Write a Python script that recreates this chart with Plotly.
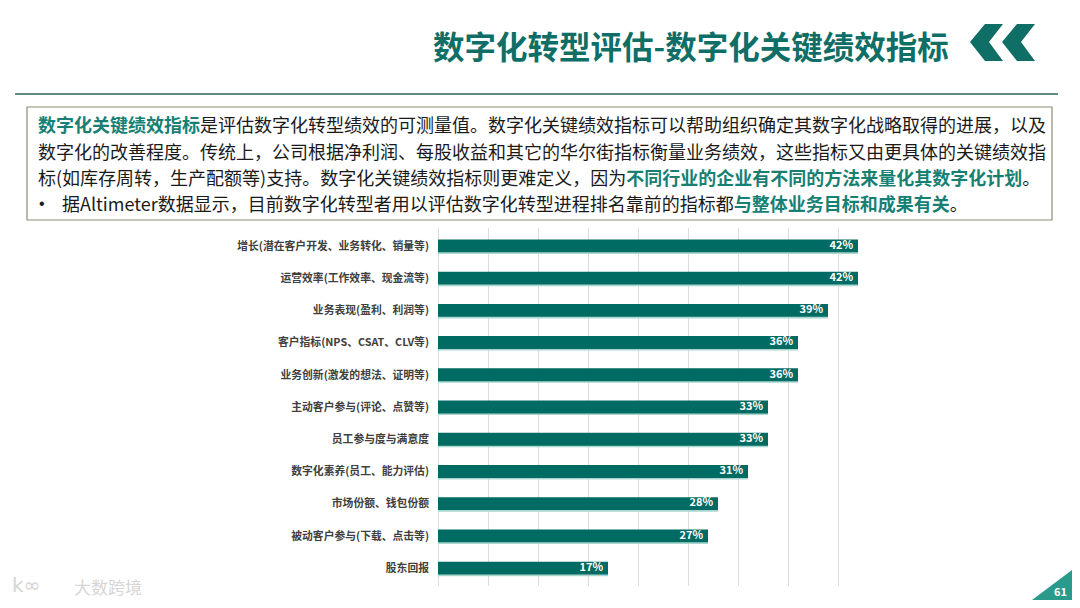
import plotly.graph_objects as go

# ---- data ----
categories = [
    "增长(潜在客户开发、业务转化、销量等)",
    "运营效率(工作效率、现金流等)",
    "业务表现(盈利、利润等)",
    "客户指标(NPS、CSAT、CLV等)",
    "业务创新(激发的想法、证明等)",
    "主动客户参与(评论、点赞等)",
    "员工参与度与满意度",
    "数字化素养(员工、能力评估)",
    "市场份额、钱包份额",
    "被动客户参与(下载、点击等)",
    "股东回报",
]
values = [42, 42, 39, 36, 36, 33, 33, 31, 28, 27, 17]
value_labels = [f"{v}%" for v in values]

title_text = "数字化转型评估-数字化关键绩效指标"
HL = "#178073"
body_lines = [
    f"<b><span style='color:{HL}'>数字化关键绩效指标</span></b>是评估数字化转型绩效的可测量值。数字化关键绩效指标可以帮助组织确定其数字化战略取得的进展，以及",
    "数字化的改善程度。传统上，公司根据净利润、每股收益和其它的华尔街指标衡量业务绩效，这些指标又由更具体的关键绩效指",
    f"标(如库存周转，生产配额等)支持。数字化关键绩效指标则更难定义，因为<b><span style='color:{HL}'>不同行业的企业有不同的方法来量化其数字化计划</span></b>。",
    f"据Altimeter数据显示，目前数字化转型者用以评估数字化转型进程排名靠前的指标都<b><span style='color:{HL}'>与整体业务目标和成果有关</span></b>。",
]

# ---- geometry (page body has an 8px margin, so work in window px minus 8) ----
OFF = 8
W, H = 1080 - 2 * OFF, 608 - 2 * OFF
PH = 358
ML, MT = 438 - OFF, 228 - OFF
PW = 440
MR = W - ML - PW
MB = H - MT - PH
RIGHT = OFF + W      # last visible window column
BOTTOM = OFF + H     # last visible window row


def px(x):
    return (x - OFF - ML) / PW


def py(y):
    return (H - MB - (y - OFF)) / PH


BAR = "#006b62"
SHADOW = "#a9d6cf"
FONT = "Noto Sans CJK SC"

fig = go.Figure()
fig.add_trace(go.Bar(
    y=categories, x=values, orientation="h", width=0.42, offset=-0.17,
    marker=dict(color=SHADOW, line=dict(width=0)), hoverinfo="skip", showlegend=False,
))
fig.add_trace(go.Bar(
    y=categories, x=values, orientation="h", width=0.4, offset=-0.2,
    marker=dict(color=BAR, line=dict(width=0)), showlegend=False,
))
fig.add_trace(go.Scatter(
    y=categories, x=[v - 0.5 for v in values], mode="text", text=value_labels,
    textposition="middle left", cliponaxis=False, showlegend=False,
    textfont=dict(color="white", size=11, family=FONT, weight=700),
))

shapes = []
# header line
shapes.append(dict(type="line", xref="paper", yref="paper", x0=px(15), x1=px(1058),
                   y0=py(94), y1=py(94), line=dict(color="#5f8c86", width=2)))
# text box
shapes.append(dict(type="rect", xref="paper", yref="paper", x0=px(27), x1=px(1052),
                   y0=py(107), y1=py(220), line=dict(color="#8e8e72", width=1.2),
                   fillcolor="white"))


def path(pts):
    return "M " + " L ".join(f"{px(a):.5f},{py(b):.5f}" for a, b in pts) + " Z"


TEAL = "#0f6e66"
for dx in (0, 32):
    shapes.append(dict(type="path", xref="paper", yref="paper",
                       path=path([(985 + dx, 24), (1003 + dx, 24), (989 + dx, 42),
                                  (1003 + dx, 61), (985 + dx, 61), (970 + dx, 42)]),
                       fillcolor=TEAL, line=dict(width=0)))
# page number triangle (kept inside the visible page)
shapes.append(dict(type="path", xref="paper", yref="paper",
                   path=path([(RIGHT - 40, BOTTOM), (RIGHT, BOTTOM - 30), (RIGHT, BOTTOM)]),
                   fillcolor="#2a9a8c", line=dict(width=0)))

annotations = []
annotations.append(dict(text=f"<b>{title_text}</b>", xref="paper", yref="paper",
                        x=px(951), y=py(45), xanchor="right", yanchor="middle",
                        showarrow=False,
                        font=dict(family=FONT, size=31.5, color=TEAL, weight=900)))
line_y = [124, 151, 177, 203]
for i, (t, yy) in enumerate(zip(body_lines, line_y)):
    x0 = 36 if i < 3 else 60
    annotations.append(dict(text=t, xref="paper", yref="paper", x=px(x0), y=py(yy),
                            xanchor="left", yanchor="middle", showarrow=False,
                            font=dict(family=FONT, size=18, color="#1a1a1a")))
annotations.append(dict(text="•", xref="paper", yref="paper", x=px(37), y=py(203),
                        xanchor="left", yanchor="middle", showarrow=False,
                        font=dict(family="Liberation Sans", size=16, color="#1a1a1a")))
# watermark
annotations.append(dict(text="k∞", xref="paper", yref="paper", x=px(10), y=py(585),
                        xanchor="left", yanchor="middle", showarrow=False,
                        font=dict(family="DejaVu Sans", size=20, color="#d6d6d6")))
annotations.append(dict(text="大数跨境", xref="paper", yref="paper", x=px(72), y=py(586),
                        xanchor="left", yanchor="middle", showarrow=False,
                        font=dict(family=FONT, size=17, color="#d6d6d6")))
annotations.append(dict(text="<b>61</b>", xref="paper", yref="paper", x=px(RIGHT - 12),
                        y=py(BOTTOM - 9), xanchor="center", yanchor="middle", showarrow=False,
                        font=dict(family=FONT, size=11, color="white")))

fig.update_layout(
    width=W, height=H, margin=dict(l=ML, r=MR, t=MT, b=MB),
    paper_bgcolor="white", plot_bgcolor="white",
    barmode="overlay", shapes=shapes, annotations=annotations,
    xaxis=dict(range=[0, 44], tick0=0, dtick=5, showticklabels=False,
               showgrid=True, gridcolor="#dcdcdc", gridwidth=1,
               zeroline=True, zerolinecolor="#dcdcdc", zerolinewidth=1,
               showline=False, fixedrange=True),
    yaxis=dict(type="category", autorange="reversed", showgrid=False, showline=False,
               ticks="", ticklabelstandoff=8,
               tickfont=dict(family=FONT, size=10.8, color="#404040", weight=700)),
    font=dict(family=FONT),
)

fig.write_html("out.html")
